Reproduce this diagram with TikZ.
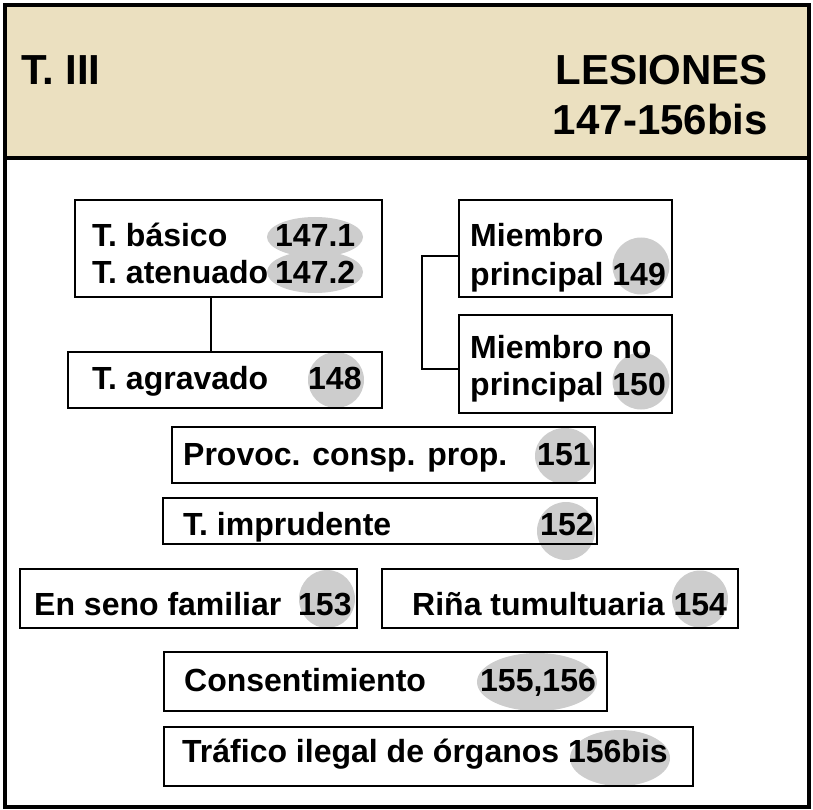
\documentclass[tikz,border=0pt]{standalone}
\usepackage{fontspec}
\setmainfont{Liberation Sans}
\usetikzlibrary{shapes.geometric}
\definecolor{beige}{RGB}{235,224,192}
\definecolor{ovalgray}{RGB}{205,205,205}

\begin{document}
\begin{tikzpicture}[x=1pt,y=-1pt]
\tikzstyle{box} = [draw, line width=2.2pt, inner sep=0pt]
\tikzstyle{lbl} = [inner sep=0pt, anchor=base west, font=\fontsize{32}{38}\selectfont\bfseries]
\tikzstyle{head} = [inner sep=0pt, font=\fontsize{42}{50}\selectfont\bfseries]
\tikzstyle{oval} = [ellipse, fill=ovalgray, inner sep=0pt]
\tikzstyle{link} = [line width=2pt]

\useasboundingbox (0,0) rectangle (813,810);

% cabecera
\fill[beige] (5,5) rectangle (809,158);
\draw[line width=4pt] (5,5) rectangle (809,807);
\draw[line width=4.5pt] (5,158) -- (809,158);
\node[head, anchor=base west] (titulo) at (21,85) {T. III};
\node[head, anchor=base east] (lesiones) at (768,85) {LESIONES};
\node[head, anchor=base east] (arts) at (768,135) {147-156bis};

% ovalos de los articulos
\node[oval, minimum width=96, minimum height=40] (o1) at (315,237) {};
\node[oval, minimum width=96, minimum height=42] (o2) at (315,272) {};
\node[oval, minimum width=56, minimum height=56] (o3) at (336,380) {};
\node[oval, minimum width=57, minimum height=57] (o4) at (641,266) {};
\node[oval, minimum width=57, minimum height=57] (o5) at (641,381) {};
\node[oval, minimum width=60, minimum height=56] (o6) at (565,456) {};
\node[oval, minimum width=58, minimum height=58] (o7) at (566,531) {};
\node[oval, minimum width=56, minimum height=58] (o8) at (327,599) {};
\node[oval, minimum width=56, minimum height=57] (o9) at (700,599) {};
\node[oval, minimum width=120, minimum height=58] (o10) at (537,682) {};
\node[oval, minimum width=100, minimum height=56] (o11) at (620,758) {};

% cajas
\node[box, minimum width=307, minimum height=97] (basico) at (228.5,248.5) {};
\node[box, minimum width=314, minimum height=56] (agravado) at (225,380) {};
\node[box, minimum width=213, minimum height=97] (mprin) at (565.5,248.5) {};
\node[box, minimum width=213, minimum height=98] (mnoprin) at (565.5,364) {};
\node[box, minimum width=423, minimum height=56] (provoc) at (383.5,455) {};
\node[box, minimum width=434, minimum height=46] (impru) at (380,521) {};
\node[box, minimum width=337, minimum height=59] (familiar) at (188.5,598.5) {};
\node[box, minimum width=356, minimum height=59] (rina) at (560,598.5) {};
\node[box, minimum width=443, minimum height=59] (consent) at (385.5,681.5) {};
\node[box, minimum width=529, minimum height=59] (trafico) at (428.5,756.5) {};

% conexiones
\draw[link] ([xshift=-18pt]basico.south) -- ([xshift=-18pt]basico.south |- agravado.north);
\draw[link] ([yshift=-7pt]mprin.west) -- ++(-36,0) |- ([yshift=-5pt]mnoprin.west);

% textos
\node[lbl] (tbas) at (92,247) {T. básico};
\node[lbl] (n1) at (275,247) {147.1};
\node[lbl] (tate) at (92,283) {T. atenuado};
\node[lbl] (n2) at (275,283) {147.2};
\node[lbl] (tagr) at (92,389) {T. agravado};
\node[lbl] (n3) at (308,389) {148};
\node[lbl] (mp1) at (470,247) {Miembro};
\node[lbl] (mp2) at (470,285) {principal 149};
\node[lbl] (mn1) at (470,358) {Miembro no};
\node[lbl] (mn2) at (470,395) {principal 150};
\node[lbl] (tpro) at (183,465) {Provoc. consp. prop.};
\node[lbl] (n6) at (537,465) {151};
\node[lbl] (timp) at (183,535) {T. imprudente};
\node[lbl] (n7) at (540,535) {152};
\node[lbl] (tfam) at (34,615) {En seno familiar};
\node[lbl] (n8) at (298,615) {153};
\node[lbl] (trin) at (412,615) {Riña tumultuaria 154};
\node[lbl] (tcon) at (184,691) {Consentimiento};
\node[lbl] (n10) at (480,691) {155,156};
\node[lbl] (ttra) at (182,762) {Tráfico ilegal de órganos 156bis};
\end{tikzpicture}
\end{document}
